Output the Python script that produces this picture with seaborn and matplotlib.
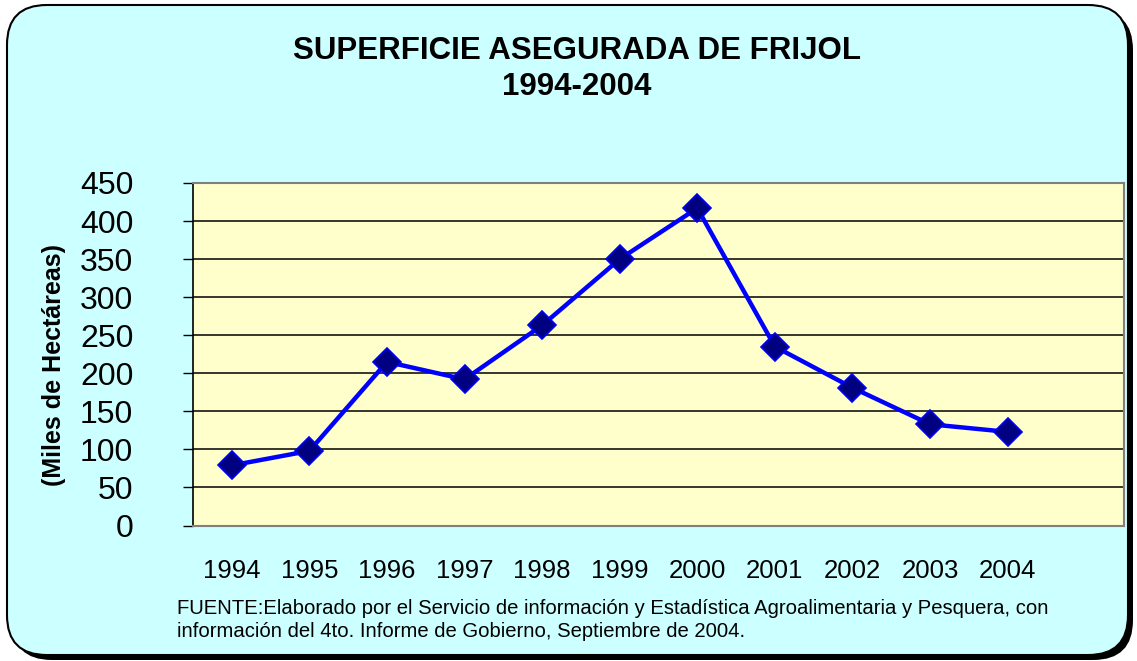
import matplotlib
matplotlib.use("Agg")
import matplotlib.pyplot as plt
import pandas as pd
import seaborn as sns
from matplotlib.patches import FancyBboxPatch

years = [1994, 1995, 1996, 1997, 1998, 1999, 2000, 2001, 2002, 2003, 2004]
hectareas = [79, 98, 215, 192, 263, 350, 417, 235, 181, 133, 123]
y_ticks = [0, 50, 100, 150, 200, 250, 300, 350, 400, 450]

title = "SUPERFICIE ASEGURADA DE FRIJOL\n1994-2004"
y_label = "(Miles de Hectáreas)"
fuente = ("FUENTE:Elaborado por el Servicio de información y Estadística "
          "Agroalimentaria y Pesquera, con\n"
          "información del 4to. Informe de Gobierno, Septiembre de 2004.")

sns.set_theme(style="white")
plt.rcParams["font.family"] = ["Liberation Sans", "DejaVu Sans"]
plt.rcParams["text.color"] = "black"
plt.rcParams["axes.labelcolor"] = "black"
plt.rcParams["xtick.color"] = "black"
plt.rcParams["ytick.color"] = "black"

df = pd.DataFrame({"year": years, "value": hectareas})

fig = plt.figure(figsize=(11.37, 6.61), dpi=100)
fig.patch.set_facecolor("white")

# rounded background panel with shadow
shadow = FancyBboxPatch((12 / 1137, 1 / 661), 1121 / 1137, 650 / 661,
                        boxstyle="round,pad=0,rounding_size=0.035",
                        transform=fig.transFigure, facecolor="black",
                        edgecolor="none", mutation_aspect=1137 / 661,
                        zorder=0)
panel = FancyBboxPatch((7 / 1137, 6 / 661), 1121 / 1137, 650 / 661,
                       boxstyle="round,pad=0,rounding_size=0.035",
                       transform=fig.transFigure, facecolor="#CCFFFF",
                       edgecolor="black", linewidth=1.5,
                       mutation_aspect=1137 / 661, zorder=1)
fig.patches.extend([shadow, panel])

ax = fig.add_axes([193 / 1137, 135.5 / 661, 931 / 1137, 342.5 / 661])
ax.set_facecolor("#FFFFCC")
ax.set_zorder(2)

for v in y_ticks[1:-1]:
    ax.axhline(v, color="black", linewidth=1.1, zorder=1)

sns.lineplot(data=df, x="year", y="value", ax=ax, color="#0000FF",
             linewidth=3.2, marker="D", markersize=14,
             markerfacecolor="#000080", markeredgecolor="#0000FF",
             markeredgewidth=1.2, zorder=3)

ax.set_xlim(1993.5, 2005.5)
ax.set_ylim(0, 450)
ax.set_xticks(years)
ax.set_xticklabels([str(y) for y in years])
ax.set_yticks(y_ticks)

for side in ["top", "right", "bottom"]:
    ax.spines[side].set_color("#808080")
    ax.spines[side].set_linewidth(1.5)
ax.spines["left"].set_color("black")
ax.spines["left"].set_linewidth(1.2)

ax.tick_params(axis="y", which="both", left=True, direction="out",
               length=7, width=1, color="black", labelsize=23, pad=36)
ax.tick_params(axis="x", length=0, labelsize=18.5, pad=24)

ax.set_xlabel("")
ax.set_ylabel(y_label, fontsize=18, fontweight="bold")
ax.yaxis.set_label_coords(-0.136, 0.47)

fig.text(577 / 1137, 1 - 69 / 661, title, ha="center", va="center",
         fontsize=22.5, fontweight="bold", linespacing=1.22, zorder=3)
fig.text(177 / 1137, 1 - 620 / 661, fuente, ha="left", va="center",
         fontsize=14.6, linespacing=1.3, zorder=3)

fig.savefig("out.png", dpi=100)
plt.close(fig)
